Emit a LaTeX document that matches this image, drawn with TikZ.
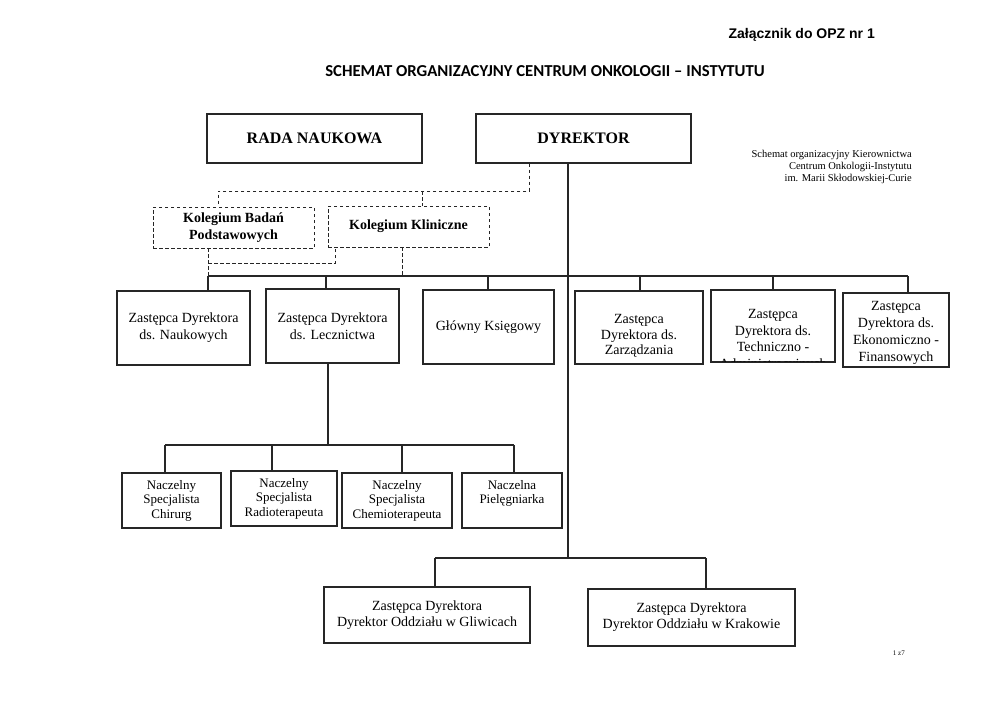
\documentclass[tikz,border=0pt]{standalone}
\usepackage{fontspec}
\setmainfont{Liberation Serif}
\newfontfamily\arialf{Liberation Sans}
\newfontfamily\calibf{Carlito}
\begin{document}
\begin{tikzpicture}[x=1pt,y=-1pt,
  box/.style={draw=black!85, line width=1.2pt, rectangle, inner sep=0pt, fill=white, align=center, font=\fontsize{14}{17}\selectfont},
  dbox/.style={draw=black!85, line width=0.9pt, dash pattern=on 3.5pt off 2.5pt, rectangle, inner sep=0pt, align=center, font=\fontsize{14}{17}\selectfont\bfseries},
  txt/.style={align=center, inner sep=0pt, font=\fontsize{14}{17}\selectfont},
  small/.style={font=\fontsize{13}{14.5}\selectfont},
  conn/.style={line width=1.1pt, draw=black!85},
  dconn/.style={line width=0.9pt, draw=black!85, dash pattern=on 3.5pt off 2.5pt}]
\useasboundingbox[fill=white] (0,0) rectangle (992,701);

% header texts
\node[anchor=base east, inner sep=0pt, font=\arialf\bfseries\fontsize{14}{16}\selectfont] (zal) at (875,39) {Załącznik do OPZ nr 1};
\node[anchor=base, inner sep=0pt, font=\calibf\bfseries\fontsize{16.7}{18}\selectfont] (title) at (545,77) {SCHEMAT ORGANIZACYJNY CENTRUM ONKOLOGII – INSTYTUTU};
\node[anchor=north east, inner sep=0pt, align=right, font=\fontsize{10.5}{12}\selectfont] (note) at (912,150) {Schemat organizacyjny Kierownictwa\\Centrum Onkologii-Instytutu\\im. Marii Skłodowskiej-Curie};
\node[anchor=base east, inner sep=0pt, font=\fontsize{7}{8}\selectfont] (page) at (905,655) {1 z7};

% top boxes
\node[box, minimum width=215pt, minimum height=49pt, font=\fontsize{16}{18}\selectfont\bfseries] (rada) at (314.5,138.5) {RADA NAUKOWA};
\node[box, minimum width=215pt, minimum height=49pt, font=\fontsize{16}{18}\selectfont\bfseries] (dyr) at (583.5,138.5) {DYREKTOR};
\node[dbox, minimum width=161pt, minimum height=41pt] (badan) at (233.5,227.5) {Kolegium Badań\\Podstawowych};
\node[dbox, minimum width=161pt, minimum height=41pt] (klin) at (408.5,226.5) {Kolegium Kliniczne};

% first row
\node[box, minimum width=133pt, minimum height=74pt] (nauk) at (183.5,328) {Zastępca Dyrektora\\ds. Naukowych};
\node[box, minimum width=133pt, minimum height=74pt] (lecz) at (332.5,326) {Zastępca Dyrektora\\ds. Lecznictwa};
\node[box, minimum width=131pt, minimum height=74pt] (ksieg) at (488.5,327) {Główny Księgowy};
\node[box, minimum width=128pt, minimum height=73pt] (zarz) at (639,327.5) {};
\node[txt, font=\fontsize{14}{15.5}\selectfont] (zarzt) at (639,336) {Zastępca\\Dyrektora ds.\\Zarządzania};
\node[box, minimum width=124pt, minimum height=72pt] (tech) at (773,326) {};
\begin{scope}
\clip ([xshift=1pt,yshift=1pt]tech.south west) rectangle ([xshift=-1pt,yshift=-1pt]tech.north east);
\node[txt, font=\fontsize{14}{16.5}\selectfont] (techt) at (773,340.5) {Zastępca\\Dyrektora ds.\\Techniczno -\\Administracyjnych};
\end{scope}
\node[box, minimum width=106pt, minimum height=74pt] (ekon) at (896,330) {};
\node[txt, font=\fontsize{14}{17}\selectfont] (ekont) at (896,332.5) {Zastępca\\Dyrektora ds.\\Ekonomiczno -\\Finansowych};

% second row
\node[box, small, minimum width=99pt, minimum height=55pt] (chir) at (171.5,500.5) {Naczelny\\Specjalista\\Chirurg};
\node[box, small, minimum width=106pt, minimum height=55pt] (radio) at (284,498.5) {Naczelny\\Specjalista\\Radioterapeuta};
\node[box, small, minimum width=110pt, minimum height=55pt] (chemio) at (397,500.5) {Naczelny\\Specjalista\\Chemioterapeuta};
\node[box, small, minimum width=100pt, minimum height=55pt] (piel) at (512,500.5) {};
\node[txt, small] (pielt) at (512,493.5) {Naczelna\\Pielęgniarka};

% bottom row
\node[box, minimum width=206pt, minimum height=56pt, font=\fontsize{14}{16}\selectfont] (gliw) at (427,615) {Zastępca Dyrektora\\Dyrektor Oddziału w Gliwicach};
\node[box, minimum width=207pt, minimum height=57pt, font=\fontsize{14}{16}\selectfont] (krak) at (691.5,617.5) {Zastępca Dyrektora\\Dyrektor Oddziału w Krakowie};

% dashed connectors
\coordinate (dk) at (529,191);
\coordinate (dkb) at (218,191);
\coordinate (dkk) at (422,191);
\draw[dconn] (dyr.south -| dk) -- (dk) -- (dkb) -- (dkb |- badan.north);
\draw[dconn] (dkk) -- (dkk |- klin.north);
\coordinate (bb) at (208,276);
\coordinate (bm) at (208,263);
\coordinate (km) at (335,263);
\coordinate (kb) at (402,276);
\draw[dconn] (badan.south -| bb) -- (bb);
\draw[dconn] (bm) -- (km) -- (km |- klin.south);
\draw[dconn] (klin.south -| kb) -- (kb);

% solid connectors
\coordinate (hL) at (208,276);
\coordinate (hR) at (908,276);
\draw[conn] (hL) -- (hR);
\draw[conn] (hL) -- (hL |- nauk.north);
\coordinate (hb) at (326,276);
\draw[conn] (hb) -- (hb |- lecz.north);
\coordinate (hc) at (488,276);
\draw[conn] (hc) -- (hc |- ksieg.north);
\coordinate (hd) at (640,276);
\draw[conn] (hd) -- (hd |- zarz.north);
\coordinate (he) at (773,276);
\draw[conn] (he) -- (he |- tech.north);
\draw[conn] (hR) -- (hR |- ekon.north);

\coordinate (dv) at (568,558);
\draw[conn] (dyr.south -| dv) -- (dv);
\coordinate (gL) at (435,558);
\coordinate (gR) at (706,558);
\draw[conn] (gL) -- (gR);
\draw[conn] (gL) -- (gL |- gliw.north);
\draw[conn] (gR) -- (gR |- krak.north);

\coordinate (nv) at (328,445);
\draw[conn] (lecz.south -| nv) -- (nv);
\coordinate (nL) at (165,445);
\coordinate (nR) at (514,445);
\draw[conn] (nL) -- (nR);
\draw[conn] (nL) -- (nL |- chir.north);
\coordinate (nb) at (272,445);
\draw[conn] (nb) -- (nb |- radio.north);
\coordinate (nc) at (402,445);
\draw[conn] (nc) -- (nc |- chemio.north);
\draw[conn] (nR) -- (nR |- piel.north);
\end{tikzpicture}
\end{document}
